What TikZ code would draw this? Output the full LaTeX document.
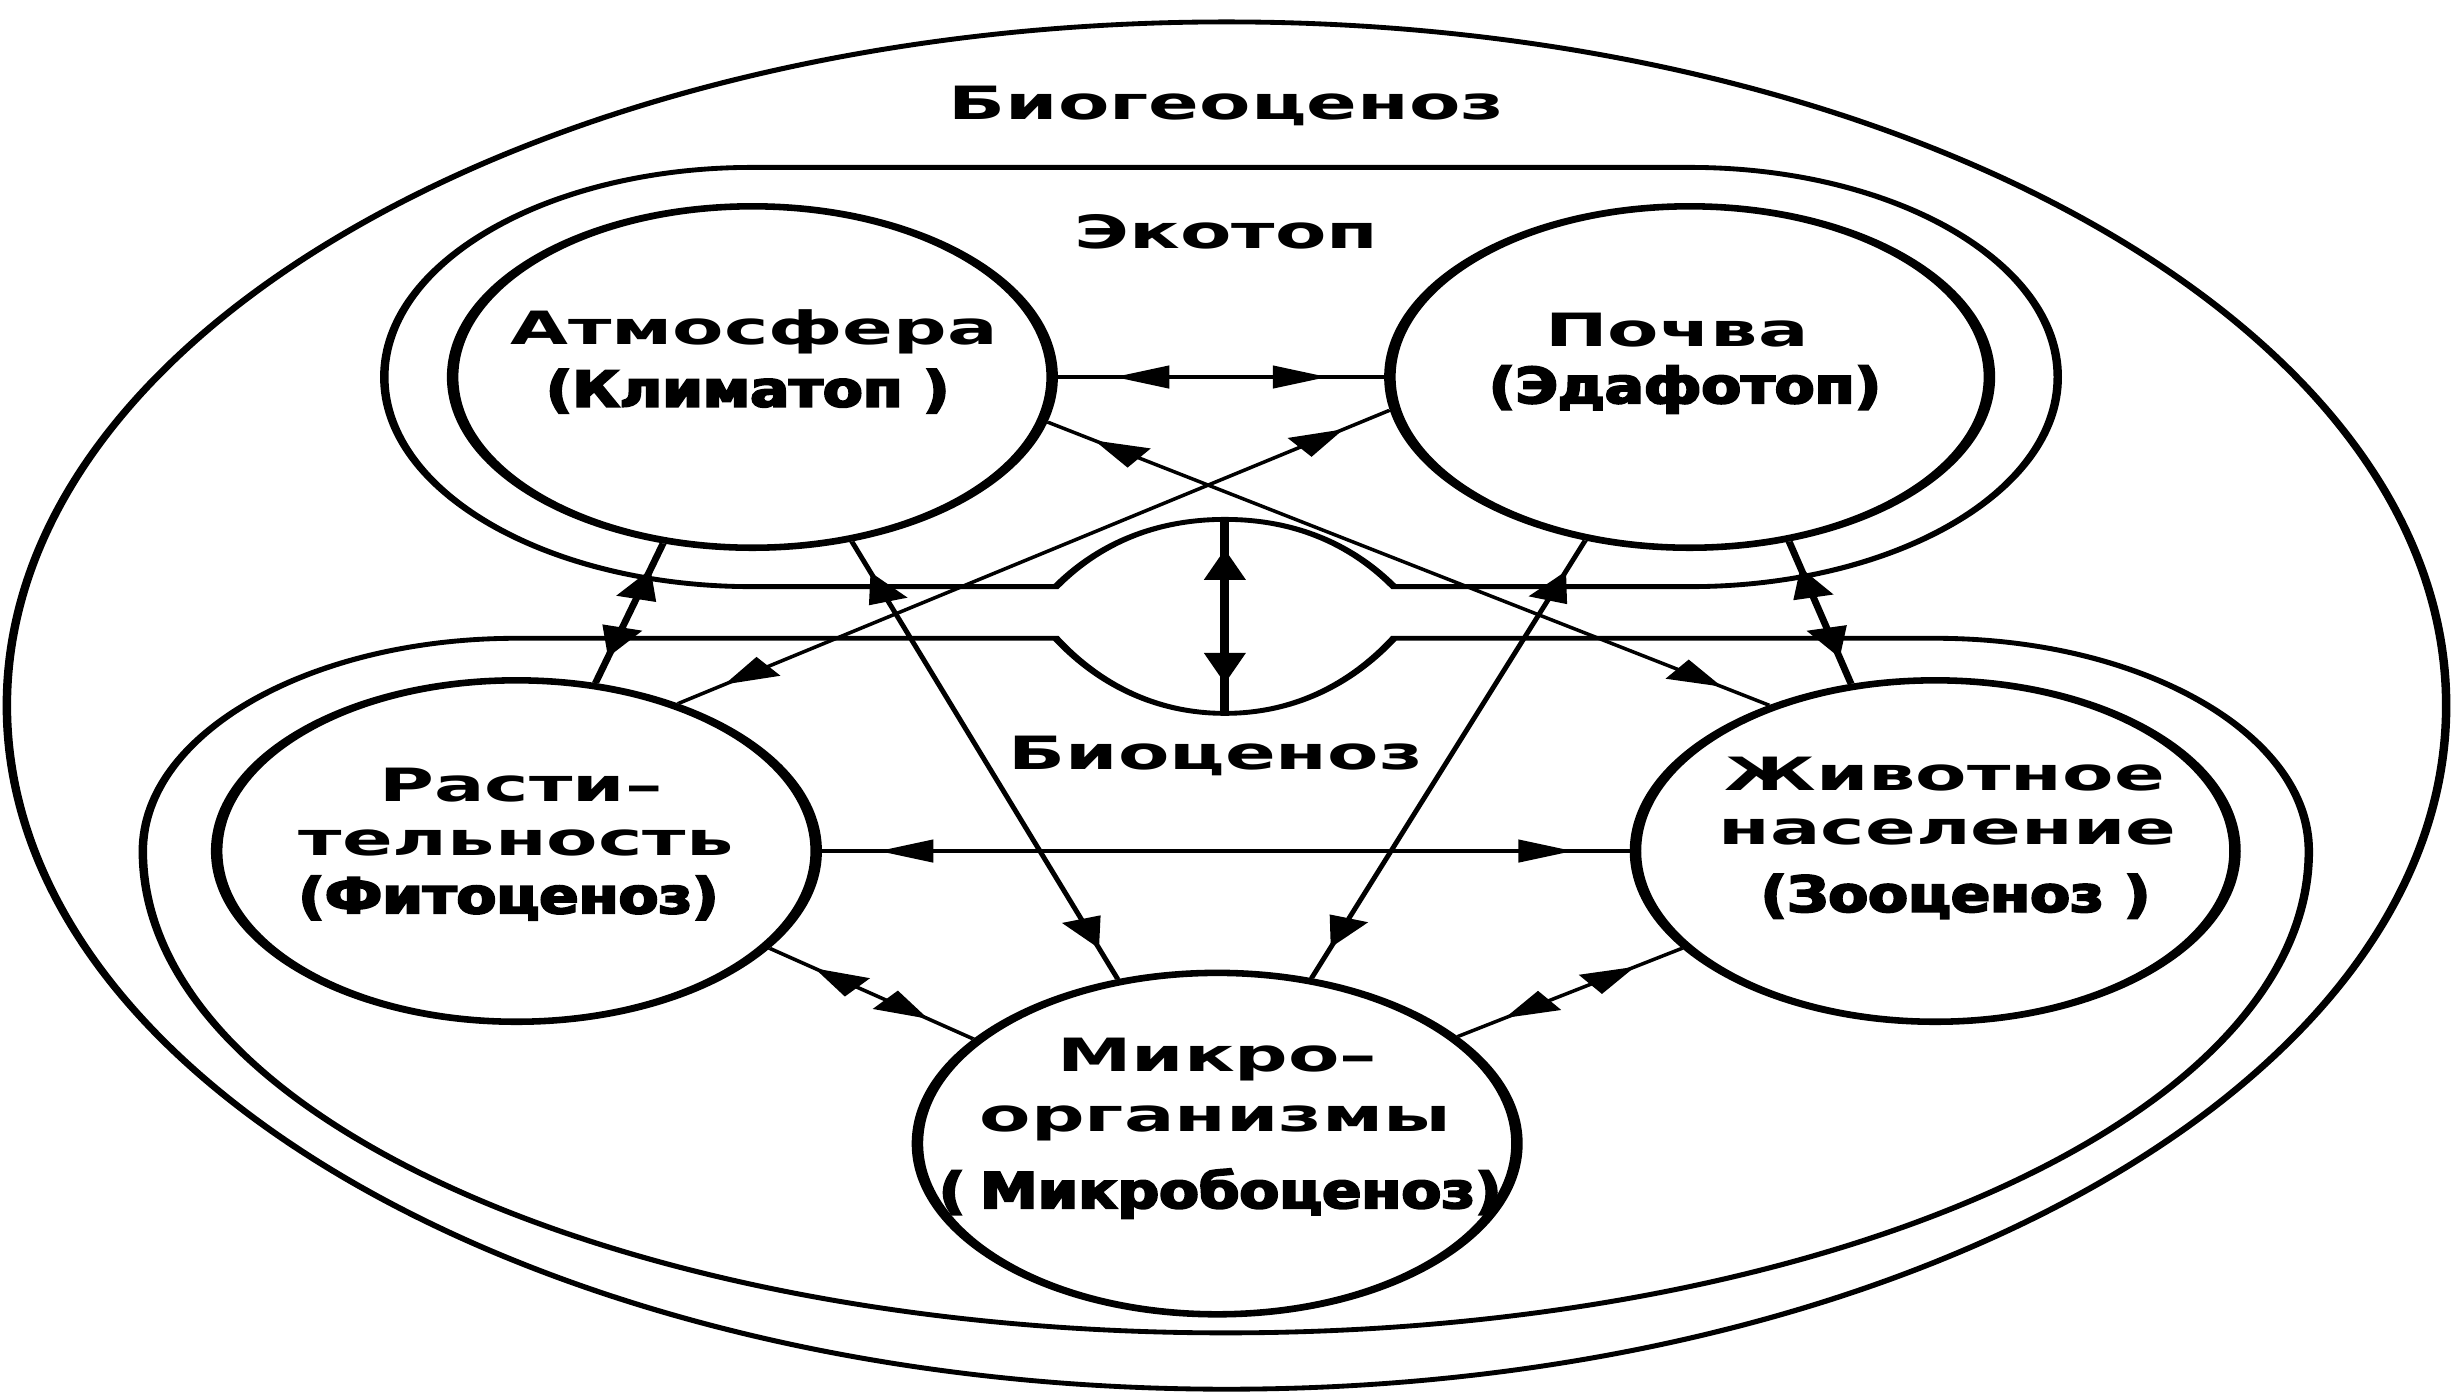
\documentclass[tikz,border=0pt]{standalone}
\usepackage{fontspec}
\setmainfont{DejaVu Sans}
\newfontfamily\mainface[FakeStretch=0.93]{DejaVu Sans Bold}
\newfontfamily\condface[FakeStretch=0.66,FakeBold=3]{DejaVu Sans Bold}
\usetikzlibrary{arrows.meta,decorations.markings}

\tikzset{
  comp/.style={circle,draw,line width=1.9pt,minimum size=3.48cm,inner sep=0pt},
  zone/.style={line width=1.4pt},
  lbl/.style={font=\mainface\fontsize{13.3}{16}\selectfont,inner sep=0pt},
  sublbl/.style={font=\condface\fontsize{14.5}{17}\selectfont,inner sep=0pt},
  link/.style={line width=0.9pt,postaction={decorate,decoration={markings,
      mark=at position #1 with {\arrowreversed{Triangle[length=9pt,width=6.5pt]}},
      mark=at position -#1 with {\arrow{Triangle[length=9pt,width=6.5pt]}}}}},
  link/.default=0.33cm,
}

\begin{document}
\begin{tikzpicture}[x=0.015944cm,y=-0.015944cm]
  \useasboundingbox (0,0) rectangle (1568,893);
  % drawn square, then stretched to the page
  \begin{scope}[transform canvas={xscale=1.7559}]
  % biogeocenosis
  \draw[zone] (446.5,451) ellipse[x radius=444,y radius=437];
  \node[lbl] (bgc) at (446.5,68) {Биогеоценоз};
  % ecotope
  \draw[zone] (273.9,107) -- (615.1,107) arc[start angle=-90,end angle=90,radius=134]
    -- (507.4,375) .. controls (498.8,360) and (479.8,332) .. (445.9,332)
    .. controls (412,332) and (393,360) .. (384.4,375)
    -- (273.9,375) arc[start angle=90,end angle=270,radius=134] -- cycle;
  \coordinate (peak) at (445.9,332);
  \node[lbl] (eco) at (446.5,148) {Экотоп};
  % biocenosis
  \draw[zone] (188,408) -- (384.4,408) .. controls (395,428) and (415,456) .. (445.9,456)
    .. controls (476.8,456) and (496.8,428) .. (507.4,408)
    -- (704.5,408) arc[start angle=-90,end angle=0,radius=136]
    arc[start angle=0,end angle=180,x radius=394.25,y radius=308]
    arc[start angle=180,end angle=270,radius=136] -- cycle;
  \coordinate (dip) at (445.9,456);
  \node[lbl] (bc) at (442.5,483) {Биоценоз};

  % components
  \node[comp] (atm) at (273.9,241) {};
  \node[comp] (poch) at (615.1,241) {};
  \node[comp] (rast) at (188,544) {};
  \node[comp] (zhiv) at (704.5,544) {};
  \node[comp] (mikro) at (443.1,731) {};

  \node[lbl] (atm-a) at (274.5,212) {Атмосфера};
  \node[sublbl] (atm-b) at (272.2,250) {(Климатоп )};
  \node[lbl] (poch-a) at (610.5,211) {Почва};
  \node[sublbl] (poch-b) at (613.4,249) {(Эдафотоп)};
  \node[lbl] (rast-a) at (189.6,502) {Расти–};
  \node[lbl] (rast-b) at (187.9,539) {тельность};
  \node[sublbl] (rast-c) at (185.1,574) {(Фитоценоз)};
  \node[lbl] (zhiv-a) at (707.9,495) {Животное};
  \node[lbl] (zhiv-b) at (709,532) {население};
  \node[sublbl] (zhiv-c) at (711.9,573) {(Зооценоз )};
  \node[lbl] (mikro-a) at (443.1,677) {Микро–};
  \node[lbl] (mikro-b) at (442.5,718) {организмы};
  \node[sublbl] (mikro-c) at (444.2,763) {(\,Микробоценоз)};

  % links
  \draw[link] (atm.east) -- (poch.west);
  \draw[link] (atm.-15.6) -- (zhiv.123.7);
  \draw[link] (poch.191.2) -- (rast.58.6);
  \draw[link=0.27cm,line width=1.2pt] (rast.75) -- (atm.-107.8);
  \draw[link] (atm.-71.3) -- (mikro.109.1);
  \draw[link] (poch.-110.6) -- (mikro.72.5);
  \draw[link=0.27cm,line width=1.2pt] (poch.-71.6) -- (zhiv.106.6);
  \draw[link] (rast.east) -- (zhiv.west);
  \draw[link] (rast.-34.9) -- (mikro.143.1);
  \draw[link] (zhiv.-146.1) -- (mikro.38);
  \draw[link=0.3cm,line width=1.5pt] (peak) -- (dip);
  \end{scope}
\end{tikzpicture}
\end{document}
